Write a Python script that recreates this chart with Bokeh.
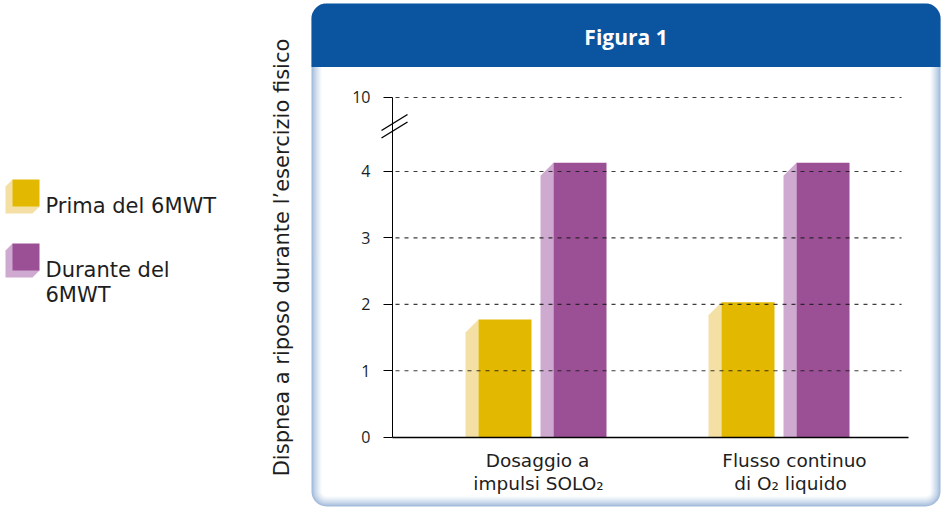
from bokeh.plotting import figure
from bokeh.models import Range1d, LinearAxis, FixedTicker
from bokeh.core.properties import value
from bokeh.embed import file_html
from bokeh.resources import INLINE

# ---------------- data ----------------
chart_title = "Figura 1"
y_title = "Dispnea a riposo durante l\u2019esercizio fisico"
cat_line1 = ["Dosaggio a", "Flusso continuo"]
cat_line2 = ["impulsi SOLO\u2082", "di O\u2082 liquido"]
series_names = ["Prima del 6MWT", "Durante del 6MWT"]
legend_lines = [["Prima del 6MWT"], ["Durante del", "6MWT"]]
prima = [1.77, 2.03]
durante = [4.13, 4.13]
y_ticks = [0, 1, 2, 3, 4, 10]

# ---------------- style / layout ----------------
FONT = "DejaVu Sans"
TXT = "#1e1e1e"
YEL, YEL_L = "#e2b900", "#f4e0a5"
PUR, PUR_L = "#9b5096", "#cea9d0"
BLUE = "#0b55a0"

Y0PX, PPU = 436.7, 66.43       # pixel row of value 0, pixels per unit
XG1, GAP = 542.0, 243.0          # pixel column of group 1, pixels per group
BREAK_POS = 4 + 74.0 / PPU       # axis position where "10" is drawn (axis break)


def px(p):
    return (p - XG1) / GAP + 1


def py(p):
    return (Y0PX - p) / PPU


def axis_pos(v):
    return v if v <= 4 else BREAK_POS


fig = figure(width=944, height=508, x_range=Range1d(px(0), px(944)),
             y_range=Range1d(py(508), py(0)), x_axis_type=None, y_axis_type=None,
             toolbar_location=None, output_backend="svg", min_border=0,
             outline_line_color=None, background_fill_color="white",
             border_fill_color="white")

# ---------------- card with inner shadow ----------------
edge = (0x9f, 0xb9, 0xda)
N = 11
for k in range(N):
    t = k / (N - 1)
    c = tuple(int(round(edge[i] + (255 - edge[i]) * t ** 0.8)) for i in range(3))
    fig.quad(left=px(311 + k), right=px(940 - k), top=py(3), bottom=py(506 - k),
             fill_color="#%02x%02x%02x" % c, line_color=None,
             border_radius=max(15 - k, 4))
fig.quad(left=px(311), right=px(940), top=py(3), bottom=py(66.5),
         fill_color=BLUE, line_color=None, border_radius=(15, 15, 0, 0))
fig.text(x=[px(625.5)], y=[py(36)], text=[chart_title], text_color="white",
         text_font=value("Open Sans"), text_font_style="bold", text_font_size=value("21px"),
         text_align="center", text_baseline="middle")

# ---------------- bars ----------------
dodge, w = 37.5 / GAP, 53.0 / GAP
dx, dy = 13.0 / GAP, 13.0 / PPU
for vals, off, col, col_l in [(prima, -dodge, YEL, YEL_L), (durante, dodge, PUR, PUR_L)]:
    xs_c = [i + 1 + off for i in range(len(vals))]
    sx, sy = [], []
    for xc, v in zip(xs_c, vals):
        left = xc - w / 2
        sx.append([left - dx, left - dx, left, left])
        sy.append([0, v - dy, v, 0])
    fig.patches(xs=sx, ys=sy, fill_color=col_l, line_color=None)
    fig.vbar(x=xs_c, top=vals, width=w, bottom=0, fill_color=col, line_color=None)

# ---------------- grid (dashed, on top of bars) ----------------
gpos = [axis_pos(v) for v in y_ticks if v != 0]
fig.segment(x0=[px(395)] * len(gpos), y0=gpos, x1=[px(901)] * len(gpos), y1=gpos,
            line_color="#1a1a1a", line_alpha=0.85, line_width=1.2, line_dash="4 5")

# ---------------- axes ----------------
tick_pos = [axis_pos(v) for v in y_ticks]
yax = LinearAxis(fixed_location=px(392), ticker=FixedTicker(ticks=tick_pos),
                 major_label_overrides={p: str(v) for p, v in zip(tick_pos, y_ticks)},
                 bounds=(0, BREAK_POS), major_tick_out=9, major_tick_in=0,
                 minor_tick_out=0, minor_tick_in=0, major_label_standoff=13,
                 axis_line_color="black", major_tick_line_color="black",
                 major_label_text_font="Open Sans", major_label_text_font_size="16px",
                 major_label_text_color=TXT)
fig.add_layout(yax, "left")
xax = LinearAxis(fixed_location=0, ticker=FixedTicker(ticks=[]),
                 bounds=(px(392), px(908)), major_tick_out=0, minor_tick_out=0,
                 major_label_text_font_size="0px", axis_line_color="black",
                 axis_line_width=1.3)
fig.add_layout(xax, "below")

# axis break marks
fig.segment(x0=[px(381), px(381)], y0=[py(130), py(137.5)],
            x1=[px(407), px(407)], y1=[py(114), py(121.5)],
            line_color="black", line_width=1.4)

# ---------------- category labels ----------------
fig.text(x=[px(537), px(794)], y=[py(460)] * 2, text=cat_line1, text_color=TXT,
         text_font=value(FONT), text_font_size=value("18.5px"),
         text_align="center", text_baseline="middle")
fig.text(x=[px(538), px(790)], y=[py(483)] * 2, text=cat_line2, text_color=TXT,
         text_font=value(FONT), text_font_size=value("18.5px"),
         text_align="center", text_baseline="middle")

# ---------------- y title ----------------
fig.text(x=[px(281)], y=[py(257)], text=[y_title], angle=1.5707963, text_color=TXT,
         text_font=value(FONT), text_font_size=value("21px"),
         text_align="center", text_baseline="middle")

# ---------------- legend ----------------
for k, (col, col_l, lines) in enumerate([(YEL, YEL_L, legend_lines[0]),
                                          (PUR, PUR_L, legend_lines[1])]):
    top = 179 + 64 * k
    fig.patches(xs=[[px(12), px(5), px(5), px(32), px(39)]],
                ys=[[py(top), py(top + 7), py(top + 34), py(top + 34), py(top + 27)]],
                fill_color=col_l, line_color=None)
    fig.quad(left=px(12), right=px(39), top=py(top), bottom=py(top + 27),
             fill_color=col, line_color=None)
    for j, ln in enumerate(lines):
        fig.text(x=[px(45)], y=[py(top + 26 + 25 * j)], text=[ln], text_color=TXT,
                 text_font=value(FONT), text_font_size=value("21px"),
                 text_align="left", text_baseline="middle")

open("out.html", "w").write(file_html(fig, INLINE))
